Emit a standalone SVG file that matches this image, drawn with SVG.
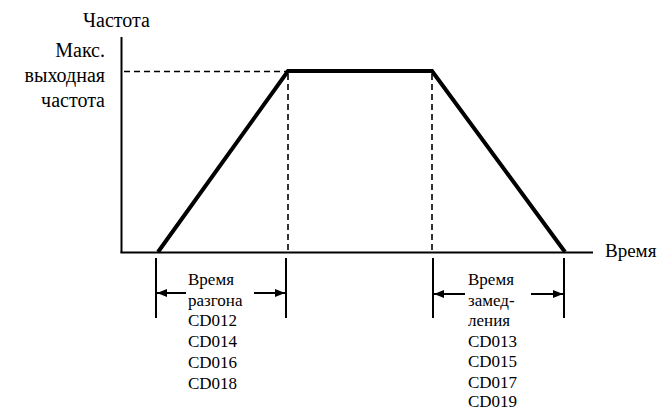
<svg xmlns="http://www.w3.org/2000/svg" width="666" height="410" viewBox="0 0 666 410">
<style>
.t{font-family:'Liberation Serif',Tinos,'Times New Roman',serif;fill:#000}
.ax{stroke:#000;stroke-width:2;fill:none}
.ds{stroke:#000;stroke-width:1.6;stroke-dasharray:6 4;fill:none}
</style>
<defs>
<marker id="ah" viewBox="0 0 10 8" refX="10" refY="4" markerWidth="10" markerHeight="8" markerUnits="userSpaceOnUse" orient="auto">
<path d="M0,0 L10,4 L0,8 Z" fill="#000"/>
</marker>
</defs>
<rect width="666" height="410" fill="#fff"/>
<g id="axes">
<line class="ax" x1="121.5" y1="37" x2="121.5" y2="253"/>
<line class="ax" x1="120.5" y1="252.5" x2="593" y2="252.5"/>
<text class="t" x="83" y="27" font-size="20">Частота</text>
<text class="t" x="605" y="257" font-size="19">Время</text>
<text class="t" x="105" y="57" text-anchor="end" font-size="20">Макс.</text>
<text class="t" x="105" y="82" text-anchor="end" font-size="20">выходная</text>
<text class="t" x="105" y="107" text-anchor="end" font-size="20">частота</text>
</g>
<g id="guides">
<line class="ds" x1="124" y1="71.5" x2="288" y2="71.5"/>
<line class="ds" x1="288" y1="74" x2="288" y2="252"/>
<line class="ds" x1="432" y1="74" x2="432" y2="252"/>
</g>
<g id="profile">
<polyline points="158,252 288,71 432,71 565,252" stroke="#000" stroke-width="4" fill="none"/>
</g>
<g id="accel">
<line class="ax" x1="156" y1="258" x2="156" y2="318"/>
<line class="ax" x1="286" y1="258" x2="286" y2="318"/>
<line class="ax" x1="186" y1="293" x2="157" y2="293" marker-end="url(#ah)"/>
<line class="ax" x1="254" y1="293" x2="285" y2="293" marker-end="url(#ah)"/>
<text class="t" x="188" y="285" font-size="17">Время</text>
<text class="t" x="188" y="305.7" font-size="17">разгона</text>
<text class="t" x="188" y="326.4" font-size="17">CD012</text>
<text class="t" x="188" y="347.1" font-size="17">CD014</text>
<text class="t" x="188" y="367.8" font-size="17">CD016</text>
<text class="t" x="188" y="388.5" font-size="17">CD018</text>
</g>
<g id="decel">
<line class="ax" x1="433" y1="258" x2="433" y2="318"/>
<line class="ax" x1="564" y1="258" x2="564" y2="318"/>
<line class="ax" x1="465" y1="294" x2="434" y2="294" marker-end="url(#ah)"/>
<line class="ax" x1="531" y1="294" x2="563" y2="294" marker-end="url(#ah)"/>
<text class="t" x="468" y="285" font-size="17">Время</text>
<text class="t" x="468" y="305.5" font-size="17">замед-</text>
<text class="t" x="468" y="326" font-size="17">ления</text>
<text class="t" x="468" y="346.5" font-size="17">CD013</text>
<text class="t" x="468" y="367" font-size="17">CD015</text>
<text class="t" x="468" y="387.5" font-size="17">CD017</text>
<text class="t" x="468" y="407" font-size="17">CD019</text>
</g>
</svg>
